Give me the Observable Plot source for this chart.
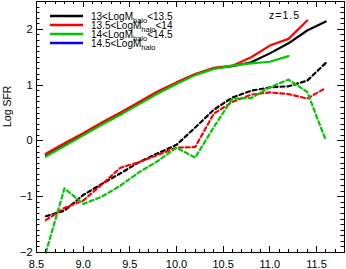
<!DOCTYPE html>
<html>
<head>
<meta charset="utf-8">
<script src="https://cdn.jsdelivr.net/npm/d3@7"></script>
<script src="https://cdn.jsdelivr.net/npm/@observablehq/plot@0.6"></script>
<style>
  html, body { margin: 0; padding: 0; background: #fff; }
  svg { display: block; overflow: visible; }
</style>
</head>
<body>
<div id="chart"></div>
<script>
// ---- data ----
const logMstar = [8.6, 8.8, 9.0, 9.2, 9.4, 9.6, 9.8, 10.0, 10.2, 10.4, 10.6, 10.8, 11.0, 11.2, 11.4, 11.6];

const seriesNames = ["13<LogM|halo|<13.5", "13.5<LogM|halo|<14", "14<LogM|halo|<14.5", "14.5<LogM|halo|"];
const seriesColors = ["#000000", "#ff0000", "#00c800", "#0000ff"];

// solid lines
const solid13   = [-0.25, -0.06, 0.12, 0.31, 0.49, 0.68, 0.87, 1.04, 1.19, 1.30, 1.34, 1.41, 1.57, 1.75, 1.98, 2.14];
const solid135  = [-0.23, -0.04, 0.14, 0.33, 0.51, 0.70, 0.89, 1.05, 1.20, 1.31, 1.35, 1.50, 1.71, 1.83, 2.16, null];
const solid14   = [-0.28, -0.09, 0.10, 0.29, 0.47, 0.66, 0.85, 1.02, 1.18, 1.29, 1.35, 1.39, 1.42, 1.52, null, null];
const solid145  = [];

// dashed lines
const dashed13  = [-1.35, -1.25, -0.97, -0.77, -0.58, -0.38, -0.22, -0.07, 0.24, 0.56, 0.78, 0.90, 0.96, 0.98, 1.08, 1.40];
const dashed135 = [-1.42, -1.20, -1.07, -0.78, -0.48, -0.38, -0.25, -0.12, -0.11, 0.49, 0.70, 0.83, 0.87, 0.84, 0.76, 0.95];
const dashed14  = [-2.00, -0.85, -1.13, -1.00, -0.80, -0.56, -0.36, -0.12, -0.30, 0.25, 0.76, 0.77, 0.96, 1.10, 0.88, 0.01];
const dashed145 = [];

const xMajor = [8.5, 9.0, 9.5, 10.0, 10.5, 11.0, 11.5];
const yMajor = [-2, -1, 0, 1, 2];
const xMinor = d3.range(86, 118).map(d => d / 10).filter(d => !xMajor.some(m => Math.abs(m - d) < 1e-9));
const yMinor = d3.range(-19, 25).map(d => d / 10).filter(d => !yMajor.some(m => Math.abs(m - d) < 1e-9));

const redshiftLabel = "z=1.5";
const yLabel = "Log SFR";

// ---- build tidy tables ----
function toRows(values, series) {
  return logMstar.map((x, i) => ({x, y: values[i], series})).filter(d => d.y != null);
}
const solidRows = [
  ...toRows(solid13, 0), ...toRows(solid135, 1), ...toRows(solid14, 2), ...toRows(solid145, 3)
];
const dashedRows = [
  ...toRows(dashed13, 0), ...toRows(dashed135, 1), ...toRows(dashed14, 2), ...toRows(dashed145, 3)
];

const font = "'Liberation Sans', Arial, sans-serif";
const M = {top: 1, right: 2, bottom: 17, left: 36};
const W = 346, H = 269;

const svg = Plot.plot({
  width: W,
  height: H,
  marginTop: M.top,
  marginRight: M.right,
  marginBottom: M.bottom,
  marginLeft: M.left,
  style: {fontFamily: font, fontSize: "11px", background: "#fff", color: "#000"},
  x: {domain: [8.5, 11.8]},
  y: {domain: [-2, 2.5]},
  color: {domain: [0, 1, 2, 3], range: seriesColors},
  marks: [
    Plot.axisX({ticks: xMajor, tickSize: 0, tickPadding: 8, tickFormat: d3.format(".1f"), fontSize: 11, label: null}),
    Plot.axisY({ticks: yMajor, tickSize: 0, tickPadding: 4, tickFormat: d3.format("d"), fontSize: 11, label: null}),
    Plot.text([yLabel], {frameAnchor: "left", rotate: -90, dx: -29, text: d => d, fontSize: 10.5, fill: "black"}),
    Plot.line(solidRows, {x: "x", y: "y", z: "series", stroke: d => d.series, strokeWidth: 2.2}),
    Plot.line(dashedRows, {x: "x", y: "y", z: "series", stroke: d => d.series, strokeWidth: 2.2, strokeDasharray: "4,3"}),
    Plot.frame({stroke: "black", strokeWidth: 1})
  ]
});

const sel = d3.select(svg);

// ---- inward ticks on all four sides, placed with Plot's own scales ----
const xs = svg.scale("x"), ys = svg.scale("y");
const frameTop = M.top, frameBottom = H - M.bottom, frameLeft = M.left, frameRight = W - M.right;
const tg = sel.append("g").attr("stroke", "black").attr("stroke-width", 1).attr("fill", "none");
function addLine(x1, y1, x2, y2) {
  tg.append("path").attr("d", `M${x1},${y1}L${x2},${y2}`);
}
function xt(values, len) {
  values.forEach(v => {
    const px = Math.round(xs.apply(v)) + 0.5;
    addLine(px, frameBottom, px, frameBottom - len);
    addLine(px, frameTop, px, frameTop + len);
  });
}
function yt(values, len) {
  values.forEach(v => {
    const py = Math.round(ys.apply(v)) + 0.5;
    addLine(frameLeft, py, frameLeft + len, py);
    addLine(frameRight, py, frameRight - len, py);
  });
}
xt(xMajor, 6); xt(xMinor, 3);
yt(yMajor, 7); yt(yMinor, 3.5);

// ---- legend and annotation inside the frame ----
const lg = sel.append("g").attr("font-family", font).attr("font-size", 10).attr("text-anchor", "start");
seriesNames.forEach((name, i) => {
  const yy = 16 + i * 9;
  lg.append("line").attr("x1", 50).attr("x2", 83).attr("y1", yy).attr("y2", yy)
    .attr("stroke", seriesColors[i]).attr("stroke-width", 2.5);
  const [a, sub, b] = name.split("|");
  const t = lg.append("text").attr("x", 91).attr("y", yy + 3.5).attr("fill", "black");
  t.append("tspan").text(a);
  t.append("tspan").attr("font-size", 7.5).attr("dy", 3).text(sub);
  if (b) t.append("tspan").attr("dy", -3).text(b);
});
sel.append("text").attr("x", 269).attr("y", 18.5).attr("font-family", font).attr("text-anchor", "start")
  .attr("font-size", 10.5).attr("letter-spacing", 1).attr("fill", "black").text(redshiftLabel);

document.getElementById("chart").appendChild(svg);
</script>
</body>
</html>
